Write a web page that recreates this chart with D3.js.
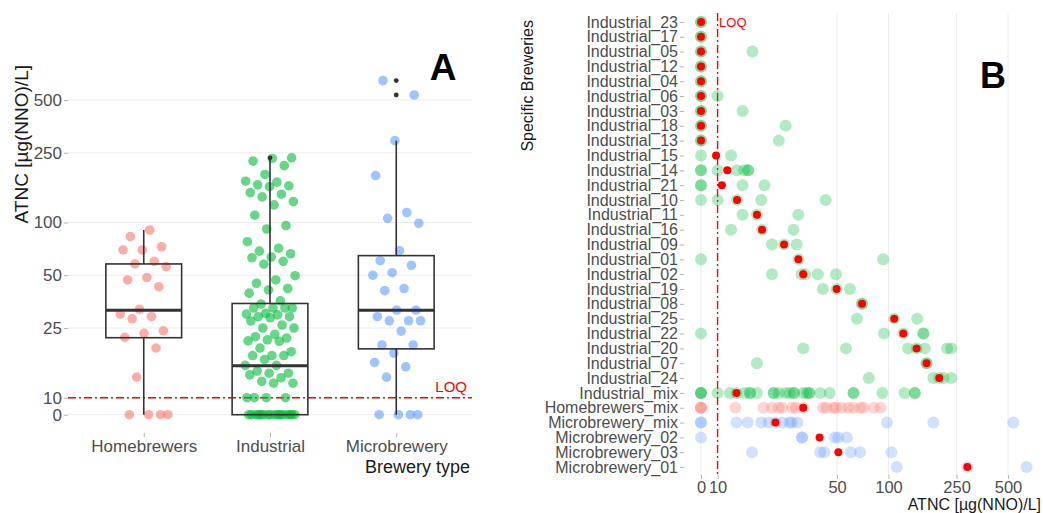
<!DOCTYPE html>
<html>
<head>
<meta charset="utf-8">
<script src="https://cdn.jsdelivr.net/npm/d3@7"></script>
<style>
  html, body { margin: 0; padding: 0; background: #fff; }
  svg { display: block; font-family: "Liberation Sans", Arial, Helvetica, sans-serif; }
</style>
</head>
<body>
<svg id="chart" width="1043" height="513"></svg>
<script>
// ---------- Panel A: ATNC by brewery type ----------
const typeCategories = ["Homebrewers", "Industrial", "Microbrewery"];
const typeColors = ["#F8766D", "#00BA38", "#619CFF"];

const homebrewerValues = [90.6, 83, 72.7, 69.7, 69.7, 60, 58, 56, 48.5, 47, 43, 32, 30, 29, 28.2,
  24.1, 23.3, 22.1, 19.2, 13.1, 0, 0, 0, 0];

const industrialValues = [234, 232, 224, 211, 188, 172, 170, 164, 162, 160, 148, 145, 140, 131.6,
  126, 110, 95.9, 91.8, 77.7, 71.3, 68.6, 66.3, 63.5, 62.9, 60, 57.8, 49.7, 47, 45, 42, 41.2, 39.5,
  35.7, 34.2, 32.5, 32.5, 32.5, 32.5, 30.3, 30, 29.7, 29, 29, 28.6, 27.4, 26, 25, 25, 23, 22.3, 21.9,
  21.4, 21.1, 21, 19.2, 18.3, 17.4, 17.4, 17.4, 16.5, 15.3, 15.3, 14.2, 13.8, 13.8, 13.5, 13, 12.4,
  12.1, 12.1, 10, 10, 10, 10, 0, 0, 0, 0, 0, 0, 0, 0, 0, 0, 0, 0, 0, 0, 0, 0];

const microbreweryValues = [645, 534, 293, 185, 114, 105.6, 99, 69, 60.5, 57, 51.7, 50, 42, 40.8,
  31.6, 31.6, 29, 27.5, 27.5, 27.5, 24, 20, 20, 18, 15.9, 15, 13.1, 0, 0, 0, 0];

// box statistics per type (lower whisker, Q1, median, Q3, upper whisker)
const boxLower  = [0, 0, 0];
const boxQ1     = [22, 0, 19];
const boxMedian = [31.6, 15.2, 31.6];
const boxQ3     = [58, 34.5, 64.7];
const boxUpper  = [90.6, 232, 293];

const concTicksA = [0, 10, 25, 50, 100, 250, 500];
const concTicksB = [0, 10, 50, 100, 250, 500];
const LOQ = 10;

// ---------- Panel B: ATNC per specific brewery ----------
const breweryNames = ["Industrial_23", "Industrial_17", "Industrial_05", "Industrial_12", "Industrial_04",
  "Industrial_06", "Industrial_03", "Industrial_18", "Industrial_13", "Industrial_15", "Industrial_14",
  "Industrial_21", "Industrial_10", "Industrial_11", "Industrial_16", "Industrial_09", "Industrial_01",
  "Industrial_02", "Industrial_19", "Industrial_08", "Industrial_25", "Industrial_22", "Industrial_20",
  "Industrial_07", "Industrial_24", "Industrial_mix", "Homebrewers_mix", "Microbrewery_mix",
  "Microbrewery_02", "Microbrewery_03", "Microbrewery_01"];

const breweryValues = [
  [0, 0], [0, 0], [0, 0, 16], [0, 0], [0, 0], [0, 0, 10], [0, 0, 14], [0, 0, 25], [0, 0, 22.8],
  [0, 12], [0, 0, 10, 13, 14.3, 15.1, 15.1], [0, 0, 14, 18.8], [0, 10, 13, 18, 42.9],
  [14, 17, 29.7], [12, 18.2, 27.8], [20.8, 24.5, 29], [0, 29.7, 93], [20.8, 31, 32.5, 38.6, 49.3],
  [41.3, 49.7, 59.5], [70, 70], [65.3, 108, 147], [0, 94, 122, 160, 160],
  [31.7, 56.4, 130, 146, 163, 220, 233], [17, 167, 167], [76.7, 183, 198, 210, 233],
  [0, 0, 0, 10, 11.8, 12.9, 14.4, 15.5, 15.5, 17, 21.3, 21.3, 22.8, 25, 26.4, 28, 28, 31.7, 33.2,
    34.4, 34.4, 39.9, 45.3, 62.4, 62.4, 92, 124, 142.5, 142.5],
  [0, 0, 0, 12.7, 18.6, 20.8, 22.8, 23.9, 27.4, 28.7, 31.7, 41.3, 43.3, 47.5, 49.3, 53.2, 58.3,
    62.4, 68.4, 71.6, 82.2, 90],
  [0, 0, 12.9, 15, 18, 19.9, 21.8, 23.9, 26.4, 27.2, 29.3, 97.9, 183, 537],
  [0, 31.2, 31.2, 48.5, 50.8, 57],
  [15.9, 39.8, 42.1, 60.1, 68.2, 104],
  [111.7, 289, 642]
];

const breweryMedians = [0, 0, 0, 0, 0, 0, 0, 0, 0, 9.8, 11.4, 10.6, 13, 17, 18.2, 24.5, 29.7, 31.7,
  49.7, 70, 108, 122, 146, 167, 198, 12.9, 31.7, 21.8, 39.5, 50.9, 289];

// ---------- helpers ----------
// results below detection (0) sit just under the LOQ on the log axis
const ZERO_PLACEMENT = 8;
const place = v => (v > 0 ? v : ZERO_PLACEMENT);
const colorOf = name => name.startsWith("Homebrewers") ? typeColors[0]
  : name.startsWith("Microbrewery") ? typeColors[2] : typeColors[1];

const svg = d3.select("#chart");
svg.append("rect").attr("width", 1043).attr("height", 513).attr("fill", "#fff");

const tickText = "#4d4d4d";
const gridColor = "#ececec";

// ================= Panel A =================
const A = { left: 68, right: 472, top: 70, bottom: 425 };
const xA = d3.scalePoint().domain(typeCategories).range([A.left, A.right]).padding(0.6);
const yA = d3.scaleLog().domain([ZERO_PLACEMENT, 500]).range([414.7, 100]);
const stepA = xA.step();

const gA = svg.append("g");

// horizontal grid
gA.append("g").selectAll("line").data(concTicksA).join("line")
  .attr("x1", A.left).attr("x2", A.right)
  .attr("y1", d => yA(place(d))).attr("y2", d => yA(place(d)))
  .attr("stroke", gridColor).attr("stroke-width", 1);

// y axis
const yAxisA = gA.append("g").attr("transform", `translate(${A.left},0)`)
  .call(d3.axisLeft(yA).tickValues(concTicksA.map(place))
    .tickFormat((d, i) => concTicksA[i]).tickSize(4).tickPadding(2));
// x axis
const xAxisA = gA.append("g").attr("transform", "translate(0,433)")
  .call(d3.axisBottom(xA).tickSize(4).tickPadding(3));
[yAxisA, xAxisA].forEach(ax => {
  ax.select(".domain").remove();
  ax.selectAll(".tick line").attr("stroke", "#b3b3b3");
  ax.selectAll(".tick text").attr("fill", tickText).attr("font-size", 17)
    .attr("font-family", "Liberation Sans, Arial, sans-serif");
});

// LOQ line
gA.append("line").attr("x1", A.left).attr("x2", A.right)
  .attr("y1", yA(LOQ)).attr("y2", yA(LOQ))
  .attr("stroke", "#ff0000").attr("stroke-width", 1.4).attr("stroke-dasharray", "8,3,2,3");
gA.append("text").attr("x", 467).attr("y", yA(LOQ) - 5.5).attr("text-anchor", "end")
  .attr("fill", "#ff0000").attr("font-size", 15).text("LOQ");

// jittered points
const typeSeries = [homebrewerValues, industrialValues, microbreweryValues];
const jitterHalf = 0.2 * stepA;
typeSeries.forEach((vals, k) => {
  const cx = xA(typeCategories[k]);
  gA.append("g").selectAll("circle").data(vals).join("circle")
    .attr("cx", (d, i) => cx + ((((i + 1) * 0.6180339887 + k * 0.31) % 1) * 2 - 1) * jitterHalf)
    .attr("cy", d => yA(place(d)))
    .attr("r", 4.8)
    .attr("fill", typeColors[k]).attr("fill-opacity", 0.6);
});

// box plots
const boxW = 0.6 * stepA;
typeCategories.forEach((cat, k) => {
  const cx = xA(cat);
  const g = gA.append("g").attr("stroke", "#333").attr("fill", "none");
  g.append("line").attr("x1", cx).attr("x2", cx)
    .attr("y1", yA(place(boxQ3[k]))).attr("y2", yA(place(boxUpper[k]))).attr("stroke-width", 1.6);
  g.append("line").attr("x1", cx).attr("x2", cx)
    .attr("y1", yA(place(boxQ1[k]))).attr("y2", yA(place(boxLower[k]))).attr("stroke-width", 1.6);
  g.append("rect").attr("x", cx - boxW / 2).attr("width", boxW)
    .attr("y", yA(place(boxQ3[k]))).attr("height", yA(place(boxQ1[k])) - yA(place(boxQ3[k])))
    .attr("stroke-width", 1.6);
  g.append("line").attr("x1", cx - boxW / 2).attr("x2", cx + boxW / 2)
    .attr("y1", yA(place(boxMedian[k]))).attr("y2", yA(place(boxMedian[k])))
    .attr("stroke-width", 3);
  // outliers beyond the whiskers
  const outliers = typeSeries[k].filter(v => v > boxUpper[k] || v < boxLower[k]);
  gA.append("g").selectAll("circle").data(outliers).join("circle")
    .attr("cx", cx).attr("cy", d => yA(place(d))).attr("r", 2.4).attr("fill", "#333");
});

// titles
svg.append("text").attr("transform", "translate(28,65) rotate(-90)").attr("text-anchor", "end")
  .attr("font-size", 19).attr("fill", "#1a1a1a").text("ATNC [µg(NNO)/L]");
svg.append("text").attr("x", 470).attr("y", 473).attr("text-anchor", "end")
  .attr("font-size", 18).attr("fill", "#1a1a1a").text("Brewery type");
svg.append("text").attr("x", 443).attr("y", 80).attr("text-anchor", "middle")
  .attr("font-size", 37).attr("font-weight", "bold").attr("fill", "#000").text("A");

// ================= Panel B =================
const B = { left: 684, right: 1043, top: 13, bottom: 476 };
const yB = d3.scalePoint().domain(breweryNames).range([B.top, B.bottom]).padding(0.6);
const xB = d3.scaleLog().domain([ZERO_PLACEMENT, 500]).range([701, 1008]);

const gB = svg.append("g");

// vertical grid
gB.append("g").selectAll("line").data(concTicksB).join("line")
  .attr("x1", d => xB(place(d))).attr("x2", d => xB(place(d)))
  .attr("y1", B.top).attr("y2", B.bottom)
  .attr("stroke", gridColor).attr("stroke-width", 1);

const yAxisB = gB.append("g").attr("transform", `translate(${B.left},0)`)
  .call(d3.axisLeft(yB).tickSize(4).tickPadding(2));
const xAxisB = gB.append("g").attr("transform", "translate(0,475)")
  .call(d3.axisBottom(xB).tickValues(concTicksB.map(place))
    .tickFormat((d, i) => concTicksB[i]).tickSize(4).tickPadding(2));
[yAxisB, xAxisB].forEach(ax => {
  ax.select(".domain").remove();
  ax.selectAll(".tick line").attr("stroke", "#b3b3b3");
  ax.selectAll(".tick text").attr("fill", tickText)
    .attr("font-family", "Liberation Sans, Arial, sans-serif");
});
yAxisB.selectAll(".tick text").attr("font-size", 16);
xAxisB.selectAll(".tick text").attr("font-size", 16.5);

// LOQ line
gB.append("line").attr("x1", xB(LOQ)).attr("x2", xB(LOQ))
  .attr("y1", B.top).attr("y2", B.bottom)
  .attr("stroke", "#ff0000").attr("stroke-width", 1.4).attr("stroke-dasharray", "8,3,2,3");
gB.append("text").attr("x", xB(LOQ) + 1.5).attr("y", 27)
  .attr("fill", "#ff0000").attr("font-size", 13).text("LOQ");

// sample points per brewery
breweryNames.forEach((name, k) => {
  gB.append("g").selectAll("circle").data(breweryValues[k]).join("circle")
    .attr("cx", d => xB(place(d))).attr("cy", yB(name)).attr("r", 6)
    .attr("fill", colorOf(name)).attr("fill-opacity", 0.3);
});
// median per brewery
gB.append("g").selectAll("circle").data(breweryMedians).join("circle")
  .attr("cx", d => xB(place(d))).attr("cy", (d, i) => yB(breweryNames[i])).attr("r", 4)
  .attr("fill", "#ff0000");

// titles
svg.append("text").attr("transform", "translate(533,20) rotate(-90)").attr("text-anchor", "end")
  .attr("font-size", 16).attr("fill", "#1a1a1a").text("Specific Breweries");
svg.append("text").attr("x", 1041).attr("y", 510).attr("text-anchor", "end")
  .attr("font-size", 16).attr("fill", "#1a1a1a").text("ATNC [µg(NNO)/L]");
svg.append("text").attr("x", 993).attr("y", 88).attr("text-anchor", "middle")
  .attr("font-size", 36).attr("font-weight", "bold").attr("fill", "#000").text("B");
</script>
</body>
</html>
